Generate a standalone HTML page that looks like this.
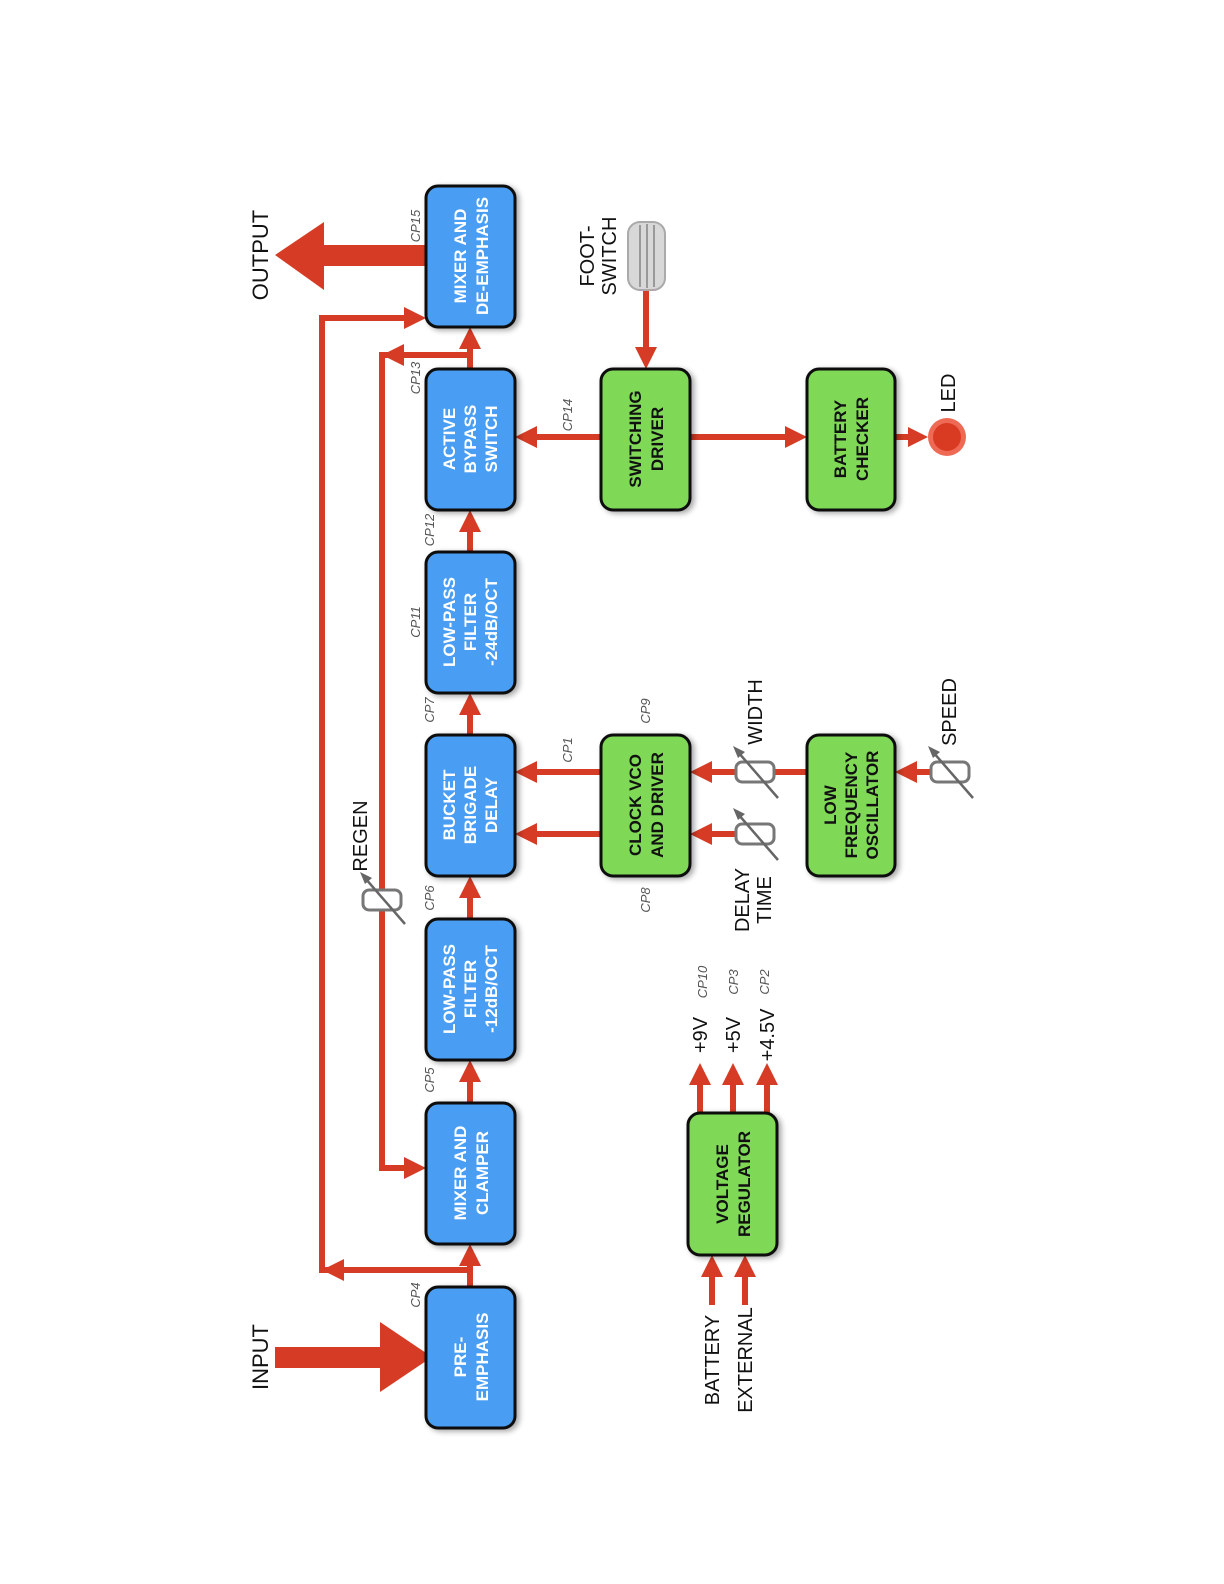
<!DOCTYPE html>
<html><head><meta charset="utf-8"><style>
html,body{margin:0;padding:0;background:#fff}
svg{display:block}
text{font-family:"Liberation Sans",sans-serif}
.bt{fill:#fff;font-weight:bold;font-size:17px;text-anchor:middle}
.gt{fill:#111;font-weight:bold;font-size:17px;text-anchor:middle}
.lb{fill:#111;font-size:20px;text-anchor:middle}
.cp{fill:#555;font-style:italic;font-size:13px;text-anchor:middle}
</style></head><body>
<svg width="1224" height="1584" viewBox="0 0 1224 1584" xmlns="http://www.w3.org/2000/svg">
<defs>
<filter id="sh" x="-20%" y="-20%" width="140%" height="140%"><feGaussianBlur in="SourceAlpha" stdDeviation="3"/><feOffset dx="3" dy="2"/><feComponentTransfer><feFuncA type="linear" slope="0.35"/></feComponentTransfer><feMerge><feMergeNode/><feMergeNode in="SourceGraphic"/></feMerge></filter>
</defs>
<g stroke="#d63c25" stroke-width="6" fill="none">
<!-- chain verticals -->
<line x1="470" y1="369" x2="470" y2="345"/>
<line x1="470" y1="552" x2="470" y2="530"/>
<line x1="470" y1="735" x2="470" y2="713"/>
<line x1="470" y1="919" x2="470" y2="897"/>
<line x1="470" y1="1103" x2="470" y2="1081"/>
<line x1="470" y1="1287" x2="470" y2="1265"/>
<!-- bus -->
<polyline points="470,1270 322,1270 322,318 405,318"/>
<polyline points="470,355 382,355 382,1168 405,1168"/>
<line x1="601" y1="437" x2="535" y2="437"/>
<line x1="646" y1="290" x2="646" y2="350"/>
<line x1="690" y1="437" x2="787" y2="437"/>
<line x1="895" y1="437" x2="912" y2="437"/>
<line x1="601" y1="772" x2="535" y2="772"/>
<line x1="601" y1="834" x2="535" y2="834"/>
<line x1="807" y1="772" x2="710" y2="772"/>
<line x1="740" y1="834" x2="710" y2="834"/>
<line x1="935" y1="772" x2="915" y2="772"/>
<line x1="700" y1="1113" x2="700" y2="1080"/>
<line x1="733" y1="1113" x2="733" y2="1080"/>
<line x1="767" y1="1113" x2="767" y2="1080"/>
<line x1="712" y1="1305" x2="712" y2="1272"/>
<line x1="745" y1="1305" x2="745" y2="1272"/>
</g>
<g fill="#d63c25">
<!-- up heads -->
<polygon points="459,349 470,327 481,349"/>
<polygon points="459,532 470,510 481,532"/>
<polygon points="459,715 470,693 481,715"/>
<polygon points="459,898 470,876 481,898"/>
<polygon points="459,1082 470,1060 481,1082"/>
<polygon points="459,1266 470,1244 481,1266"/>
<polygon points="689,1085 700,1063 711,1085"/>
<polygon points="722,1085 733,1063 744,1085"/>
<polygon points="756,1085 767,1063 778,1085"/>
<polygon points="701,1277 712,1255 723,1277"/>
<polygon points="734,1277 745,1255 756,1277"/>
<!-- right heads -->
<polygon points="404,307 426,318 404,329"/>
<polygon points="404,1157 426,1168 404,1179"/>
<polygon points="785,426 807,437 785,448"/>
<polygon points="908,427 928,437 908,447"/>
<!-- left heads -->
<polygon points="344,1259 322,1270 344,1281"/>
<polygon points="404,344 382,355 404,366"/>
<polygon points="537,426 515,437 537,448"/>
<polygon points="537,761 515,772 537,783"/>
<polygon points="537,823 515,834 537,845"/>
<polygon points="712,761 690,772 712,783"/>
<polygon points="712,823 690,834 712,845"/>
<polygon points="917,761 895,772 917,783"/>
<!-- down -->
<polygon points="635,347 646,369 657,347"/>
<!-- big arrows -->
<polygon points="432,245 324,245 324,222 275,255 324,290 324,266 432,266"/>
<polygon points="275,1347 380,1347 380,1322 432,1357 380,1392 380,1368 275,1368"/>
</g>
<!-- blue boxes -->
<g fill="#4a9df2" stroke="#111" stroke-width="3" filter="url(#sh)">
<rect x="426" y="186" width="89" height="141" rx="12"/>
<rect x="426" y="369" width="89" height="141" rx="12"/>
<rect x="426" y="552" width="89" height="141" rx="12"/>
<rect x="426" y="735" width="89" height="141" rx="12"/>
<rect x="426" y="919" width="89" height="141" rx="12"/>
<rect x="426" y="1103" width="89" height="141" rx="12"/>
<rect x="426" y="1287" width="89" height="141" rx="12"/>
</g>
<g fill="#7fd957" stroke="#111" stroke-width="3" filter="url(#sh)">
<rect x="601" y="369" width="89" height="141" rx="12"/>
<rect x="807" y="369" width="88" height="141" rx="12"/>
<rect x="601" y="735" width="89" height="141" rx="12"/>
<rect x="807" y="735" width="88" height="141" rx="12"/>
<rect x="688" y="1113" width="89" height="142" rx="12"/>
</g>
<!-- box text -->
<text class="bt" transform="translate(466,256) rotate(-90)">MIXER AND</text>
<text class="bt" transform="translate(488,256) rotate(-90)">DE-EMPHASIS</text>
<text class="bt" transform="translate(455,439) rotate(-90)">ACTIVE</text>
<text class="bt" transform="translate(476,439) rotate(-90)">BYPASS</text>
<text class="bt" transform="translate(497,439) rotate(-90)">SWITCH</text>
<text class="bt" transform="translate(455,622) rotate(-90)">LOW-PASS</text>
<text class="bt" transform="translate(476,622) rotate(-90)">FILTER</text>
<text class="bt" transform="translate(497,622) rotate(-90)">-24dB/OCT</text>
<text class="bt" transform="translate(455,805) rotate(-90)">BUCKET</text>
<text class="bt" transform="translate(476,805) rotate(-90)">BRIGADE</text>
<text class="bt" transform="translate(497,805) rotate(-90)">DELAY</text>
<text class="bt" transform="translate(455,989) rotate(-90)">LOW-PASS</text>
<text class="bt" transform="translate(476,989) rotate(-90)">FILTER</text>
<text class="bt" transform="translate(497,989) rotate(-90)">-12dB/OCT</text>
<text class="bt" transform="translate(466,1173) rotate(-90)">MIXER AND</text>
<text class="bt" transform="translate(488,1173) rotate(-90)">CLAMPER</text>
<text class="bt" transform="translate(466,1357) rotate(-90)">PRE-</text>
<text class="bt" transform="translate(488,1357) rotate(-90)">EMPHASIS</text>
<text class="gt" transform="translate(641,439) rotate(-90)">SWITCHING</text>
<text class="gt" transform="translate(663,439) rotate(-90)">DRIVER</text>
<text class="gt" transform="translate(846,439) rotate(-90)">BATTERY</text>
<text class="gt" transform="translate(868,439) rotate(-90)">CHECKER</text>
<text class="gt" transform="translate(641,805) rotate(-90)">CLOCK VCO</text>
<text class="gt" transform="translate(663,805) rotate(-90)">AND DRIVER</text>
<text class="gt" transform="translate(836,805) rotate(-90)">LOW</text>
<text class="gt" transform="translate(857,805) rotate(-90)">FREQUENCY</text>
<text class="gt" transform="translate(878,805) rotate(-90)">OSCILLATOR</text>
<text class="gt" transform="translate(728,1184) rotate(-90)">VOLTAGE</text>
<text class="gt" transform="translate(750,1184) rotate(-90)">REGULATOR</text>
<!-- labels -->
<text class="lb" font-size="22" transform="translate(268,255) rotate(-90)" style="font-size:22px">OUTPUT</text>
<text class="lb" transform="translate(268,1357) rotate(-90)" style="font-size:22px">INPUT</text>
<text class="lb" transform="translate(367,836) rotate(-90)">REGEN</text>
<text class="lb" transform="translate(594,256) rotate(-90)">FOOT-</text>
<text class="lb" transform="translate(616,256) rotate(-90)">SWITCH</text>
<text class="lb" transform="translate(762,712) rotate(-90)">WIDTH</text>
<text class="lb" transform="translate(749,900) rotate(-90)">DELAY</text>
<text class="lb" transform="translate(771,900) rotate(-90)">TIME</text>
<text class="lb" transform="translate(956,712) rotate(-90)">SPEED</text>
<text class="lb" transform="translate(955,393) rotate(-90)">LED</text>
<text class="lb" transform="translate(707,1035) rotate(-90)">+9V</text>
<text class="lb" transform="translate(740,1035) rotate(-90)">+5V</text>
<text class="lb" transform="translate(774,1035) rotate(-90)">+4.5V</text>
<text class="lb" transform="translate(719,1360) rotate(-90)">BATTERY</text>
<text class="lb" transform="translate(752,1360) rotate(-90)">EXTERNAL</text>
<!-- CP labels -->
<text class="cp" transform="translate(420,226) rotate(-90)">CP15</text>
<text class="cp" transform="translate(420,378) rotate(-90)">CP13</text>
<text class="cp" transform="translate(572,415) rotate(-90)">CP14</text>
<text class="cp" transform="translate(434,530) rotate(-90)">CP12</text>
<text class="cp" transform="translate(420,622) rotate(-90)">CP11</text>
<text class="cp" transform="translate(434,710) rotate(-90)">CP7</text>
<text class="cp" transform="translate(572,750) rotate(-90)">CP1</text>
<text class="cp" transform="translate(650,711) rotate(-90)">CP9</text>
<text class="cp" transform="translate(434,898) rotate(-90)">CP6</text>
<text class="cp" transform="translate(650,900) rotate(-90)">CP8</text>
<text class="cp" transform="translate(434,1080) rotate(-90)">CP5</text>
<text class="cp" transform="translate(420,1295) rotate(-90)">CP4</text>
<text class="cp" transform="translate(707,982) rotate(-90)">CP10</text>
<text class="cp" transform="translate(738,982) rotate(-90)">CP3</text>
<text class="cp" transform="translate(769,982) rotate(-90)">CP2</text>
<!-- pots -->
<g fill="#fff" stroke="#777" stroke-width="3">
<rect x="363" y="890" width="38" height="20" rx="6"/>
<rect x="736" y="762" width="38" height="20" rx="6"/>
<rect x="736" y="824" width="38" height="20" rx="6"/>
<rect x="931" y="762" width="38" height="20" rx="6"/>
</g>
<g stroke="#666" stroke-width="2.5" fill="#666">
<line x1="405" y1="924" x2="365" y2="878"/><polygon points="360,872 372,878 365,884" stroke="none"/>
<line x1="778" y1="798" x2="738" y2="752"/><polygon points="733,746 745,752 738,758" stroke="none"/>
<line x1="778" y1="860" x2="738" y2="814"/><polygon points="733,808 745,814 738,820" stroke="none"/>
<line x1="973" y1="798" x2="933" y2="752"/><polygon points="928,746 940,752 933,758" stroke="none"/>
</g>
<!-- footswitch -->
<rect x="628" y="222" width="37" height="68" rx="12" fill="#d8d8d8" stroke="#aaa" stroke-width="2"/>
<g stroke="#999" stroke-width="2"><line x1="640" y1="225" x2="640" y2="287"/><line x1="647" y1="224" x2="647" y2="288"/><line x1="654" y1="225" x2="654" y2="287"/></g>
<!-- LED -->
<circle cx="947" cy="437" r="19" fill="#ee6a55"/>
<circle cx="947" cy="437" r="14" fill="#d93a22"/>
</svg>
</body></html>
